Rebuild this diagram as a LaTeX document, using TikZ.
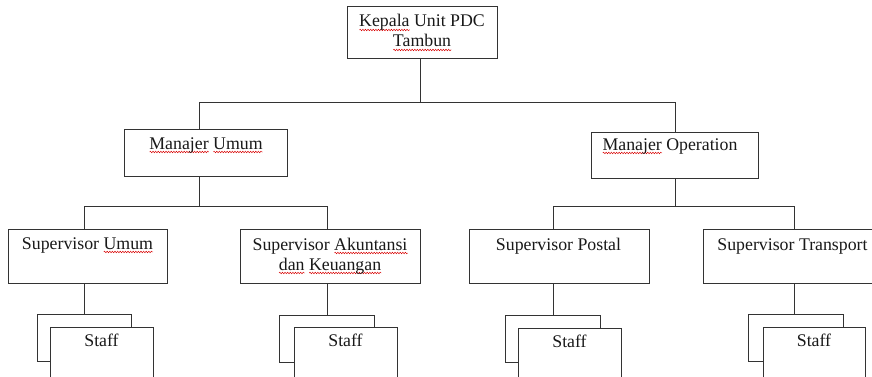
\documentclass[tikz,border=0pt]{standalone}
\usepackage{fontspec}
\setmainfont{Liberation Serif}
\usetikzlibrary{decorations.pathmorphing}
\newsavebox\rwbox
\newcommand\rw[1]{\sbox\rwbox{#1}\makebox[0pt][l]{\raisebox{-4pt}{\tikz[x=1pt,y=1pt]\draw[red!85!black,line width=0.45pt,decorate,decoration={snake,amplitude=0.8pt,segment length=2.6pt}] (0pt,0pt) -- (\the\wd\rwbox,0pt);}}\usebox\rwbox}
\begin{document}
\begin{tikzpicture}[x=1pt,y=-1pt,
  box/.style={draw=black!80, line width=0.9pt, fill=white, inner sep=0pt, outer sep=0pt, anchor=north west},
  txt/.style={text=black!90, font=\fontsize{17.8}{20}\selectfont, align=center, inner sep=0pt, anchor=base},
  conn/.style={draw=black!80, line width=0.9pt}]
\useasboundingbox (0,0) rectangle (872,377);
\clip (0,0) rectangle (872,377);
\fill[white] (0,0) rectangle (872,377);
% boxes
\node[box, minimum width=150pt, minimum height=52pt] (ku) at (347,6) {};
\node[box, minimum width=163pt, minimum height=47pt] (mu) at (124,129) {};
\node[box, minimum width=167pt, minimum height=46pt] (mo) at (591,132) {};
\node[box, minimum width=159pt, minimum height=54pt] (su) at (8,229) {};
\node[box, minimum width=180pt, minimum height=54pt] (sa) at (240,229) {};
\node[box, minimum width=180pt, minimum height=54pt] (sp) at (469,229) {};
\node[box, minimum width=185pt, minimum height=54pt] (st) at (703,229) {};
% staff (back and front)
\node[box, minimum width=94pt, minimum height=47pt] (b1) at (37,314) {};
\node[box, minimum width=103pt, minimum height=70pt] (f1) at (50,327) {};
\node[box, minimum width=95pt, minimum height=47pt] (b2) at (279,315) {};
\node[box, minimum width=103pt, minimum height=70pt] (f2) at (294,327) {};
\node[box, minimum width=95pt, minimum height=47pt] (b3) at (505,315) {};
\node[box, minimum width=103pt, minimum height=70pt] (f3) at (518,328) {};
\node[box, minimum width=95pt, minimum height=47pt] (b4) at (748,314) {};
\node[box, minimum width=102pt, minimum height=70pt] (f4) at (763,327) {};
% texts (base = baseline of last line)
\node[txt] (kut) at (422,47) {\rw{Kepala} Unit PDC\\\rw{Tambun}};
\node[txt] (mut) at (206,149) {\rw{Manajer} \rw{Umum}};
\node[txt] (mot) at (670,150) {\rw{Manajer} Operation};
\node[txt] (sut) at (87.5,249) {Supervisor \rw{Umum}};
\node[txt] (sat) at (330,270) {Supervisor \rw{Akuntansi}\\\rw{dan} \rw{Keuangan}};
\node[txt] (spt) at (558.5,250) {Supervisor Postal};
\node[txt] (stt) at (792.5,250) {Supervisor Transport};
\node[txt] (ft1) at (101.5,346) {Staff};
\node[txt] (ft2) at (345.5,346) {Staff};
\node[txt] (ft3) at (569.5,347) {Staff};
\node[txt] (ft4) at (814,346) {Staff};
% connectors
\coordinate (t0) at (420,102);
\coordinate (j1) at (199,102);
\coordinate (j2) at (675,102);
\draw[conn] (t0 |- ku.south) -- (t0);
\draw[conn] (j1 |- mu.north) -- (j1) -- (j2) -- (j2 |- mo.north);
\coordinate (k0) at (199,206);
\coordinate (k1) at (84,206);
\coordinate (k2) at (327,206);
\draw[conn] (k0 |- mu.south) -- (k0);
\draw[conn] (k1 |- su.north) -- (k1) -- (k2) -- (k2 |- sa.north);
\coordinate (m0) at (675,206);
\coordinate (m1) at (553,206);
\coordinate (m2) at (794,206);
\draw[conn] (m0 |- mo.south) -- (m0);
\draw[conn] (m1 |- sp.north) -- (m1) -- (m2) -- (m2 |- st.north);
\coordinate (s1) at (84,0);
\coordinate (s2) at (327,0);
\coordinate (s3) at (553,0);
\coordinate (s4) at (794,0);
\draw[conn] (s1 |- su.south) -- (s1 |- b1.north);
\draw[conn] (s2 |- sa.south) -- (s2 |- b2.north);
\draw[conn] (s3 |- sp.south) -- (s3 |- b3.north);
\draw[conn] (s4 |- st.south) -- (s4 |- b4.north);
\end{tikzpicture}
\end{document}
